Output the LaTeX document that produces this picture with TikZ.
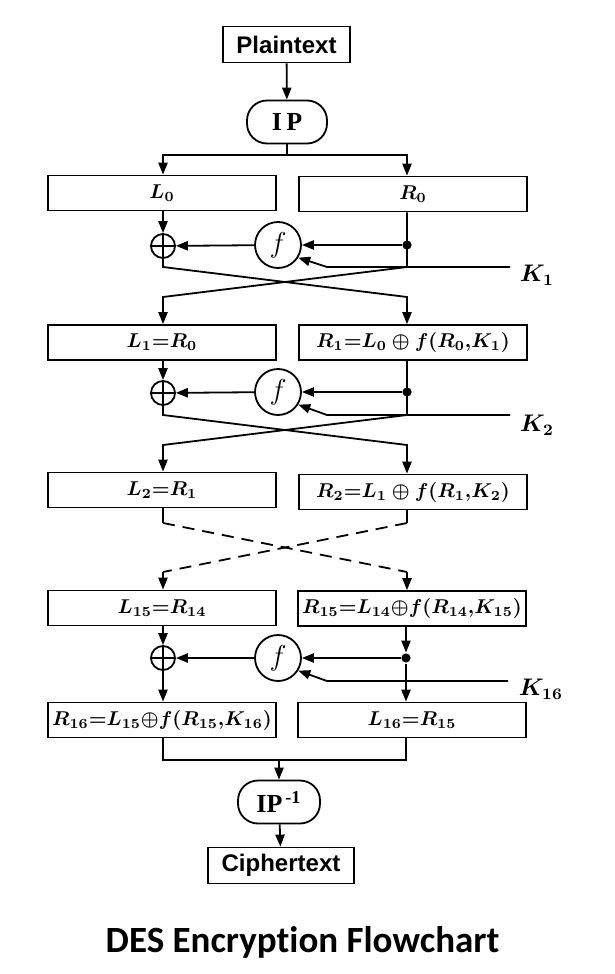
\documentclass[tikz,border=0pt]{standalone}
\usepackage{fontspec}
\setsansfont{Liberation Sans}
\newfontfamily\ipfont{Liberation Serif}
\newfontfamily\titlefont[Ligatures=NoCommon]{Carlito}
\usetikzlibrary{arrows.meta,calc}

\begin{document}
\begin{tikzpicture}[
  x=0.5pt,y=-0.5pt,line width=0.9pt,
  >={Triangle[length=6pt,width=4.6pt]},
  half/.style={draw,line width=0.9pt,minimum width=114pt,minimum height=17.5pt,
    inner sep=0pt,font=\boldmath\fontsize{9.8}{12}\selectfont},
  term/.style={draw,line width=0.9pt,minimum height=18pt,inner sep=0pt,
    font=\sffamily\bfseries\fontsize{12}{14}\selectfont},
  perm/.style={draw,line width=0.9pt,rounded corners=10pt,minimum width=40pt,
    minimum height=21.5pt,inner sep=0pt,font=\ipfont\bfseries\fontsize{13}{15}\selectfont},
  fun/.style={draw,circle,line width=0.9pt,minimum size=23pt,inner sep=0pt,
    font=\fontsize{14}{16}\selectfont},
  xor/.style={draw,circle,line width=0.9pt,minimum size=12pt,inner sep=0pt,
    path picture={\draw[line width=0.9pt]
      (path picture bounding box.north) -- (path picture bounding box.south)
      (path picture bounding box.west) -- (path picture bounding box.east);}},
  junc/.style={circle,fill,inner sep=0pt,minimum size=4.6pt},
  key/.style={anchor=west,inner sep=0pt,font=\boldmath\fontsize{11.5}{14}\selectfont},
  dash line/.style={dash pattern=on 6pt off 4pt}
]
  \useasboundingbox (0,0) rectangle (615,974);

  % input and initial permutation
  \node[term,minimum width=63.5pt] (plain) at (286.5,44.5) {Plaintext};
  \node[perm] (ip) at (287,122) {I\,P};

  % round 1
  \node[half] (L0) at (162,193) {$L_0$};
  \node[half] (R0) at (413,194) {$R_0$};
  \node[xor] (xa) at (163,246) {};
  \node[fun] (fa) at (278,245) {$f$};
  \node[junc] (ja) at (407,245) {};
  \coordinate (ka) at (510,267);
  \node[key] (kalab) at (519,275) {$K_1$};

  % round 2
  \node[half] (L1) at (162,342.5) {$L_1{=}R_0$};
  \node[half] (R1) at (413,342.5) {$R_1{=}L_0 \oplus f(R_0{,}K_1)$};
  \node[xor] (xb) at (163,393) {};
  \node[fun] (fb) at (278,392) {$f$};
  \node[junc] (jb) at (407,392) {};
  \coordinate (kb) at (510,415);
  \node[key] (kblab) at (519,425) {$K_2$};

  % after round 2
  \node[half] (L2) at (162,490) {$L_2{=}R_1$};
  \node[half] (R2) at (413,492) {$R_2{=}L_1 \oplus f(R_1{,}K_2)$};

  % round 16
  \node[half] (L15) at (162,608) {$L_{15}{=}R_{14}$};
  \node[half] (R15) at (412,608.5) {$R_{15}{=}L_{14}{\oplus}f(R_{14}{,}K_{15})$};
  \node[xor] (xc) at (163,658) {};
  \node[fun] (fc) at (278,658) {$f$};
  \node[junc] (jc) at (406,658) {};
  \coordinate (kc) at (508,681);
  \node[key] (kclab) at (518,689) {$K_{16}$};
  \node[half] (R16) at (162,720) {$R_{16}{=}L_{15}{\oplus}f(R_{15}{,}K_{16})$};
  \node[half] (L16) at (412,720) {$L_{16}{=}R_{15}$};

  % output
  \node[perm,minimum width=41pt] (ipinv) at (279,802) {IP\textsuperscript{\,-1}};
  \node[term,minimum width=73pt] (cipher) at (281,865.5) {Ciphertext};
  \node[font=\titlefont\bfseries\fontsize{18.5}{21}\selectfont] (title) at (302.5,942) {DES Encryption Flowchart};

  % connectors
  \draw[->] (plain) -- (ip);
  \draw[->] (ip.south) -- (287,155) -| (L0.north -| xa);
  \draw[->] (287,155) -| (R0.north -| ja);

  \draw[->] (L0.south -| xa) -- (xa);
  \draw[->] (ja) -- (fa);
  \draw[->] (fa) -- (xa);
  \draw[->] (ka) -- (327,267) -- (fa.-32);
  \draw[->] (xa.south) -- (163,267) -- (407,297) -- (R1.north -| ja);
  \draw[->] (R0.south -| ja) -- (407,267) -- (163,297) -- (L1.north -| xa);

  \draw[->] (L1.south -| xb) -- (xb);
  \draw[->] (jb) -- (fb);
  \draw[->] (fb) -- (xb);
  \draw[->] (kb) -- (327,415) -- (fb.-32);
  \draw[->] (xb.south) -- (163,415) -- (407,445) -- (R2.north -| jb);
  \draw[->] (R1.south -| jb) -- (407,415) -- (163,445) -- (L2.north -| xb);

  \draw (L2.south -| xb) -- (163,523);
  \draw[dash line] (163,523) -- (407,572);
  \draw[->] (407,572) -- (R15.north -| jb);
  \draw (R2.south -| jb) -- (407,523);
  \draw[dash line] (407,523) -- (163,572);
  \draw[->] (163,572) -- (L15.north -| xb);

  \draw[->] (L15.south -| xc) -- (xc);
  \draw[->] (R15.south -| jc) -- (jc);
  \draw[->] (jc) -- (fc);
  \draw[->] (fc) -- (xc);
  \draw[->] (kc) -- (327,681) -- (fc.-32);
  \draw[->] (xc) -- (R16.north -| xc);
  \draw[->] (jc) -- (L16.north -| jc);

  \draw (R16.south -| xc) -- (163,760) -- (406,760) -- (L16.south -| jc);
  \draw[->] (ipinv.north |- 0,760) -- (ipinv);
  \draw[->] (ipinv) -- (cipher);
\end{tikzpicture}
\end{document}
